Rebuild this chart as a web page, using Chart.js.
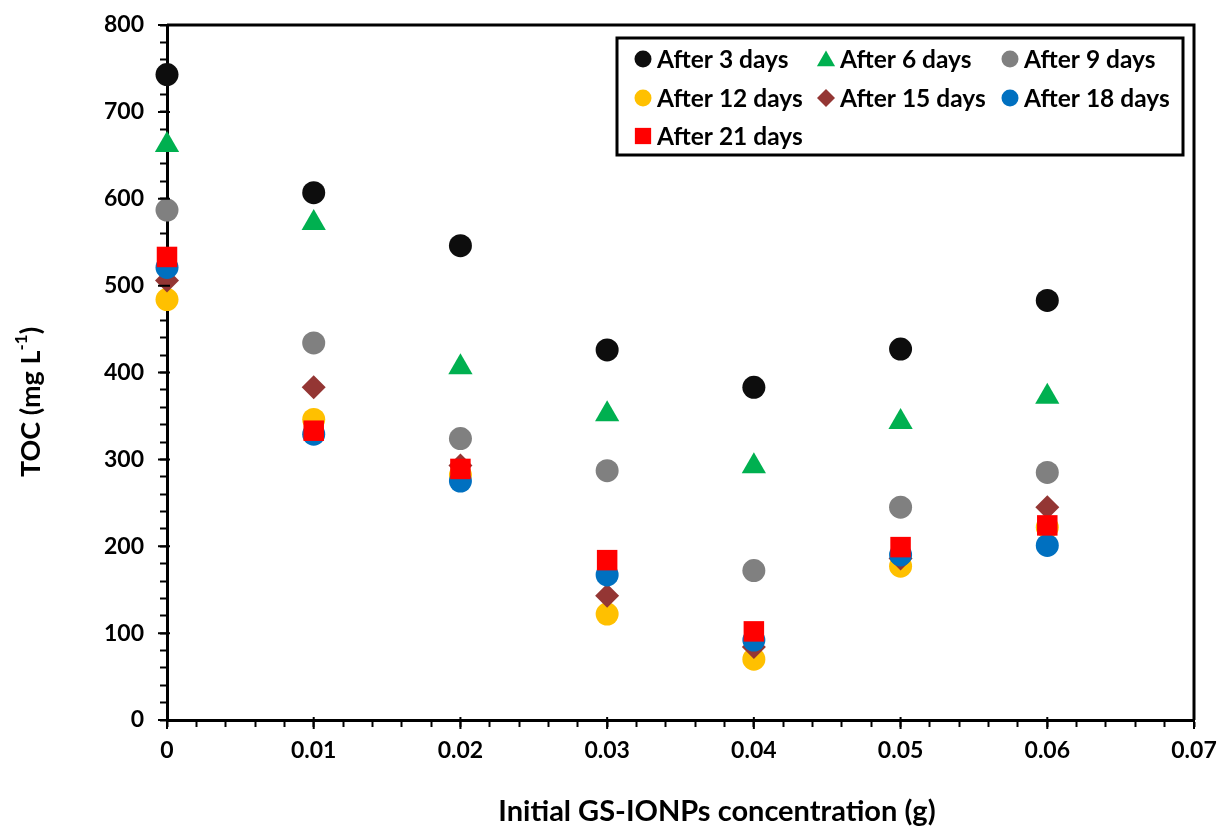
<!DOCTYPE html>
<html>
<head>
<meta charset="utf-8">
<script src="https://cdn.jsdelivr.net/npm/chart.js@4.4.1/dist/chart.umd.min.js"></script>
<style>
html,body{margin:0;padding:0;background:#fff;}
#wrap{width:1219px;height:828px;position:relative;}
</style>
</head>
<body>
<div id="wrap"><canvas id="c" width="1219" height="828"></canvas></div>
<script>
const concentrations = [0, 0.01, 0.02, 0.03, 0.04, 0.05, 0.06];
const after3  = [743, 607, 546, 426, 383, 427, 483];
const after6  = [662, 572, 406, 352, 292, 343, 372];
const after9  = [587, 434, 324, 287, 172, 245, 285];
const after12 = [484, 346, 282, 122, 70, 177, 222];
const after15 = [506, 383, 293, 143, 84, 186, 245];
const after18 = [521, 329, 275, 167, 92, 190, 201];
const after21 = [533, 333, 289, 184, 102, 199, 224];
const seriesLabels = ['After 3 days','After 6 days','After 9 days','After 12 days','After 15 days','After 18 days','After 21 days'];
const yTickValues = [0,100,200,300,400,500,600,700,800];
const xTickValues = [0,0.01,0.02,0.03,0.04,0.05,0.06,0.07];
const xTitle = 'Initial GS-IONPs concentration (g)';

const styles = [
  {color:'#0D0D0D', shape:'circle', r:11.5, lr:8.5},
  {color:'#00B050', shape:'triangle', r:14, lr:10.5},
  {color:'#808080', shape:'circle', r:11.5, lr:8.5},
  {color:'#FFC000', shape:'circle', r:11.5, lr:8.5},
  {color:'#943634', shape:'rectRot', r:12, lr:9},
  {color:'#0070C0', shape:'circle', r:11.5, lr:8.5},
  {color:'#FF0000', shape:'rect', r:14.5, lr:11.5}
];
const allSeries = [after3, after6, after9, after12, after15, after18, after21];

const datasets = allSeries.map((vals, i) => ({
  label: seriesLabels[i],
  data: concentrations.map((x, j) => ({x: x, y: vals[j]})),
  backgroundColor: styles[i].color,
  borderColor: styles[i].color,
  borderWidth: 0,
  pointStyle: styles[i].shape,
  pointRadius: styles[i].r,
  pointHoverRadius: styles[i].r,
  legendRadius: styles[i].lr,
  order: allSeries.length - i,
  clip: false,
  showLine: false
}));

Chart.defaults.font.family = 'Lato, "Open Sans", sans-serif';
Chart.defaults.color = '#000';

const FONT_BOLD = (s) => 'bold ' + s + 'px Lato, "Open Sans", sans-serif';

const decorPlugin = {
  id: 'decor',
  afterDraw(chart) {
    const ctx = chart.ctx;
    const a = chart.chartArea;
    ctx.save();
    // frame
    ctx.strokeStyle = '#000';
    ctx.lineWidth = 3;
    ctx.beginPath();
    ctx.moveTo(a.left, a.top);
    ctx.lineTo(a.right, a.top);
    ctx.lineTo(a.right, a.bottom);
    ctx.stroke();

    // major ticks crossing slightly into the plot
    ctx.lineWidth = 2;
    ctx.beginPath();
    const xs = chart.scales.x, ys = chart.scales.y;
    xTickValues.forEach(v => { const px = xs.getPixelForValue(v); ctx.moveTo(px, a.bottom - 3); ctx.lineTo(px, a.bottom + 9); });
    yTickValues.forEach(v => { const py = ys.getPixelForValue(v); ctx.moveTo(a.left - 9, py); ctx.lineTo(a.left + 3, py); });
    ctx.stroke();

    // legend box
    const box = {l:617, t:38, r:1183, b:155};
    ctx.fillStyle = '#fff';
    ctx.fillRect(box.l, box.t, box.r - box.l, box.b - box.t);
    ctx.lineWidth = 3;
    ctx.strokeStyle = '#000';
    ctx.strokeRect(box.l, box.t, box.r - box.l, box.b - box.t);
    const colX = [643, 826, 1010];
    const rowY = [59, 98, 136];
    ctx.font = FONT_BOLD(24.5);
    ctx.textBaseline = 'middle';
    ctx.textAlign = 'left';
    chart.data.datasets.forEach((ds, i) => {
      const cx = colX[i % 3], cy = rowY[Math.floor(i / 3)];
      ctx.fillStyle = ds.backgroundColor;
      ctx.strokeStyle = ds.backgroundColor;
      ctx.lineWidth = 0.01;
      Chart.helpers.drawPoint(ctx, {pointStyle: ds.pointStyle, radius: ds.legendRadius, borderWidth: 0}, cx, cy + (ds.pointStyle === 'triangle' ? 2 : 0));
      ctx.fillStyle = '#000';
      ctx.fillText(ds.label, cx + 14, cy + 1);
    });

    // x title
    ctx.fillStyle = '#000';
    ctx.font = FONT_BOLD(29);
    ctx.textAlign = 'center';
    ctx.textBaseline = 'middle';
    ctx.fillText(xTitle, 717, 812);

    // y title with superscript
    ctx.translate(31, 402);
    ctx.rotate(-Math.PI / 2);
    const mainFont = FONT_BOLD(27), supFont = FONT_BOLD(17);
    const p1 = 'TOC (mg L', p2 = '-1', p3 = ')';
    ctx.font = mainFont; const w1 = ctx.measureText(p1).width, w3 = ctx.measureText(p3).width;
    ctx.font = supFont; const w2 = ctx.measureText(p2).width;
    let x = -(w1 + w2 + w3) / 2;
    ctx.textAlign = 'left';
    ctx.font = mainFont; ctx.fillText(p1, x, 0); x += w1;
    ctx.font = supFont; ctx.fillText(p2, x, -9); x += w2;
    ctx.font = mainFont; ctx.fillText(p3, x, 0);
    ctx.restore();
  }
};

new Chart(document.getElementById('c'), {
  type: 'scatter',
  data: { datasets },
  options: {
    responsive: false,
    animation: false,
    events: [],
    layout: { padding: { left: 0, right: 25, top: 25, bottom: 0 } },
    plugins: { legend: { display: false }, tooltip: { enabled: false } },
    scales: {
      x: {
        type: 'linear',
        min: 0, max: 0.07,
        afterFit(s) { s.height = 108; s.paddingLeft = 0; s.paddingRight = 0; },
        afterBuildTicks(s) {
          const t = [];
          for (let k = 0; k <= 35; k++) t.push({ value: +(k * 0.002).toFixed(3) });
          s.ticks = t;
        },
        ticks: {
          autoSkip: false,
          maxRotation: 0,
          padding: 10,
          font: { size: 23, weight: 'bold' },
          color: '#000',
          callback: (v) => {
            const m = xTickValues.find(t => Math.abs(t - v) < 1e-9);
            return m === undefined ? '' : String(m);
          }
        },
        grid: { drawOnChartArea: false, tickLength: 7, tickWidth: 2, tickColor: '#000' },
        border: { color: '#000', width: 3 }
      },
      y: {
        min: 0, max: 800,
        afterFit(s) { s.width = 167; s.paddingTop = 0; s.paddingBottom = 0; },
        afterBuildTicks(s) {
          const t = [];
          for (let k = 0; k <= 40; k++) t.push({ value: k * 20 });
          s.ticks = t;
        },
        ticks: {
          autoSkip: false,
          padding: 16,
          font: { size: 23, weight: 'bold' },
          color: '#000',
          callback: (v) => yTickValues.includes(v) ? String(v) : ''
        },
        grid: { drawOnChartArea: false, tickLength: 7, tickWidth: 2, tickColor: '#000' },
        border: { color: '#000', width: 3 }
      }
    }
  },
  plugins: [decorPlugin]
});
</script>
</body>
</html>
